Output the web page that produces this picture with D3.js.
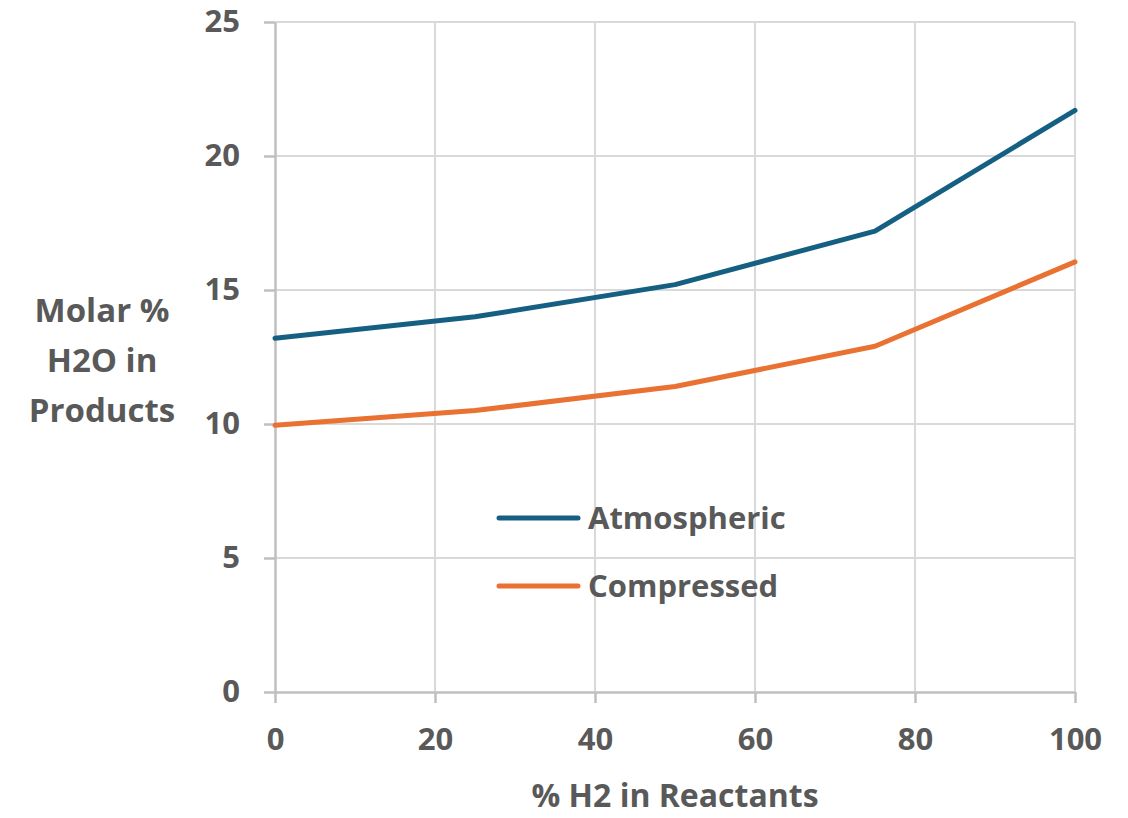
<!DOCTYPE html>
<html>
<head>
<meta charset="UTF-8">
<script src="https://d3js.org/d3.v7.min.js"></script>
<style>
    body { margin: 0; background: #fff; }
    svg text { font-family: "Open Sans", Lato, sans-serif; font-weight: 700; fill: #595959; }
</style>
</head>
<body>
<svg id="chart" width="1128" height="818"></svg>
<script>
    // data
    const h2Pct = [0, 25, 50, 75, 100];
    const atmospheric = [13.2, 14.0, 15.2, 17.2, 21.7];
    const compressed = [9.95, 10.5, 11.4, 12.9, 16.05];
    const xTicks = [0, 20, 40, 60, 80, 100];
    const yTicks = [0, 5, 10, 15, 20, 25];
    const seriesNames = ["Atmospheric", "Compressed"];
    const seriesColors = ["#156082", "#E97132"];

    const width = 1128, height = 818;
    const margin = { left: 275, right: 53, top: 22, bottom: 126 };

    const svg = d3.select("#chart");

    const x = d3.scaleLinear().domain([0, 100]).range([margin.left, width - margin.right]);
    const y = d3.scaleLinear().domain([0, 25]).range([height - margin.bottom, margin.top]);

    // grid
    svg.append("g")
        .selectAll("line")
        .data(yTicks.filter(d => d > 0))
        .join("line")
        .attr("x1", x(0)).attr("x2", x(100))
        .attr("y1", d => y(d)).attr("y2", d => y(d))
        .style("stroke", "#d9d9d9").style("stroke-width", 2);

    svg.append("g")
        .selectAll("line")
        .data(xTicks.filter(d => d > 0))
        .join("line")
        .attr("x1", d => x(d)).attr("x2", d => x(d))
        .attr("y1", y(0)).attr("y2", y(25))
        .style("stroke", "#d9d9d9").style("stroke-width", 2);

    // axes
    const xAxis = svg.append("g")
        .attr("transform", `translate(0,${y(0)})`)
        .call(d3.axisBottom(x).tickValues(xTicks).tickSize(11).tickPadding(25).tickSizeOuter(0));
    const yAxis = svg.append("g")
        .attr("transform", `translate(${x(0)},0)`)
        .call(d3.axisLeft(y).tickValues(yTicks).tickSize(11).tickPadding(24).tickSizeOuter(0));

    [xAxis, yAxis].forEach(a => {
        a.attr("font-family", null);
        a.select(".domain").style("stroke", "#bfbfbf").style("stroke-width", 2.5);
        a.selectAll(".tick line").style("stroke", "#bfbfbf").style("stroke-width", 2.5);
        a.selectAll(".tick text").style("font-size", "31px");
    });

    // lines
    const line = d3.line()
        .x((d, i) => x(h2Pct[i]))
        .y(d => y(d));

    [atmospheric, compressed].forEach((s, i) => {
        svg.append("path")
            .datum(s)
            .attr("d", line)
            .style("fill", "none")
            .style("stroke", seriesColors[i])
            .style("stroke-width", 5)
            .style("stroke-linejoin", "round")
            .style("stroke-linecap", "round");
    });

    // legend
    const legend = svg.append("g");
    seriesNames.forEach((name, i) => {
        const ly = 518 + i * 68;
        legend.append("line")
            .attr("x1", 499).attr("x2", 578)
            .attr("y1", ly).attr("y2", ly)
            .style("stroke", seriesColors[i])
            .style("stroke-width", 5)
            .style("stroke-linecap", "round");
        legend.append("text")
            .attr("x", 588).attr("y", ly)
            .attr("dy", "0.35em")
            .style("font-size", "31px")
            .text(name);
    });

    // axis titles
    svg.append("text")
        .attr("x", x(50)).attr("y", 807)
        .style("text-anchor", "middle")
        .style("font-size", "32px")
        .text("% H2 in Reactants");

    const yTitle = svg.append("text")
        .style("text-anchor", "middle")
        .style("font-size", "33px");
    ["Molar %", "H2O in", "Products"].forEach((t, i) => {
        yTitle.append("tspan")
            .attr("x", 102)
            .attr("y", 322 + i * 50)
            .text(t);
    });
</script>
</body>
</html>
